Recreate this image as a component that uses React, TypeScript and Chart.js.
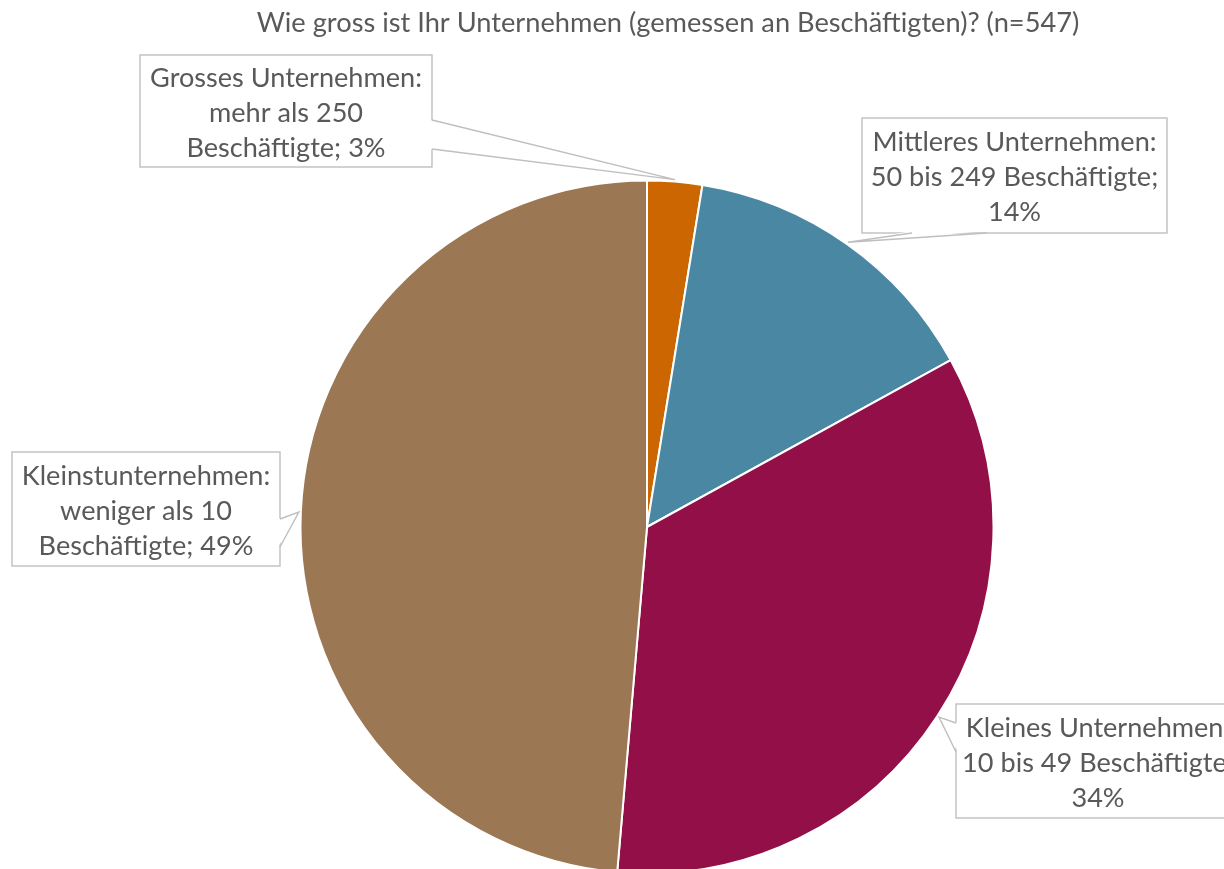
import React, { useEffect, useRef } from "react";
import { Chart, registerables } from "chart.js";

Chart.register(...registerables);

// ---------- data ----------
const chartTitle = "Wie gross ist Ihr Unternehmen (gemessen an Beschäftigten)? (n=547)";
const categories = [
  "Grosses Unternehmen",
  "Mittleres Unternehmen",
  "Kleines Unternehmen",
  "Kleinstunternehmen",
];
const counts = [14, 79, 188, 266];
const labelTemplates = [
  ["Grosses Unternehmen:", "mehr als 250", "Beschäftigte; {p}"],
  ["Mittleres Unternehmen:", "50 bis 249 Beschäftigte;", "{p}"],
  ["Kleines Unternehmen:", "10 bis 49 Beschäftigte;", "{p}"],
  ["Kleinstunternehmen:", "weniger als 10", "Beschäftigte; {p}"],
];
const sliceColors = ["#CC6600", "#4A87A3", "#930F48", "#9B7753"];

// ---------- layout (positions / styles) ----------
const W = 1224;
const H = 869;
const CANVAS_H = 878;
const PIE = { cx: 647, cy: 527, r: 346.5 };
type Side = "right" | "left" | "bottom";
const callouts: { x: number; y: number; w: number; h: number; side: Side; b1: number; b2: number }[] = [
  { x: 140, y: 55, w: 292, h: 112, side: "right", b1: 65, b2: 94 },
  { x: 862, y: 118, w: 305, h: 115, side: "bottom", b1: 50, b2: 125 },
  { x: 956, y: 704, w: 284, h: 114, side: "left", b1: 19, b2: 48 },
  { x: 12, y: 452, w: 268, h: 114, side: "right", b1: 67, b2: 95 },
];
const FONT_FAMILY = "Lato, 'Open Sans', sans-serif";
const TEXT_COLOR = "#595959";
const BOX_STROKE = "#BFBFBF";
const LINE_H = 35;

function fitSize(ctx: CanvasRenderingContext2D, text: string, target: number) {
  ctx.font = `100px ${FONT_FAMILY}`;
  const w = ctx.measureText(text).width;
  return (100 * target) / w;
}

const calloutPlugin = {
  id: "callouts",
  afterDraw(chart: any) {
    const ctx: CanvasRenderingContext2D = chart.ctx;
    const meta = chart.getDatasetMeta(0);
    const total = counts.reduce((a, b) => a + b, 0);
    ctx.save();

    // title
    const titleSize = fitSize(ctx, chartTitle, 823);
    ctx.font = `${titleSize}px ${FONT_FAMILY}`;
    ctx.fillStyle = TEXT_COLOR;
    ctx.textAlign = "center";
    ctx.textBaseline = "middle";
    ctx.fillText(chartTitle, 668, 23);

    const labelSize = fitSize(ctx, "Grosses Unternehmen:", 272);

    meta.data.forEach((arc: any, i: number) => {
      const c = callouts[i];
      if (!c) return;
      const p = arc.getProps(["x", "y", "startAngle", "endAngle", "outerRadius"], true);
      const mid = (p.startAngle + p.endAngle) / 2;
      const tx = p.x + Math.cos(mid) * (p.outerRadius + 2);
      const ty = p.y + Math.sin(mid) * (p.outerRadius + 2);

      let b1x, b1y, b2x, b2y, dx = 0, dy = 0;
      if (c.side === "right") {
        b1x = b2x = c.x + c.w; b1y = c.y + c.b1; b2y = c.y + c.b2; dx = -2;
      } else if (c.side === "left") {
        b1x = b2x = c.x; b1y = c.y + c.b1; b2y = c.y + c.b2; dx = 2;
      } else {
        b1y = b2y = c.y + c.h; b1x = c.x + c.b1; b2x = c.x + c.b2; dy = -2;
      }

      // box
      ctx.fillStyle = "#FFFFFF";
      ctx.fillRect(c.x, c.y, c.w, c.h);
      ctx.strokeStyle = BOX_STROKE;
      ctx.lineWidth = 1.4;
      ctx.strokeRect(c.x, c.y, c.w, c.h);

      // wedge
      ctx.beginPath();
      ctx.moveTo(b1x + dx, b1y + dy);
      ctx.lineTo(tx, ty);
      ctx.lineTo(b2x + dx, b2y + dy);
      ctx.closePath();
      ctx.fillStyle = "#FFFFFF";
      ctx.fill();
      ctx.beginPath();
      ctx.moveTo(b1x, b1y);
      ctx.lineTo(tx, ty);
      ctx.lineTo(b2x, b2y);
      ctx.stroke();

      // text
      const pct = Math.round((counts[i] / total) * 100) + "%";
      const lines = labelTemplates[i].map((t) => t.replace("{p}", pct));
      ctx.font = `${labelSize}px ${FONT_FAMILY}`;
      ctx.fillStyle = TEXT_COLOR;
      ctx.textAlign = "center";
      ctx.textBaseline = "middle";
      const cx = c.x + c.w / 2;
      const cy = c.y + c.h / 2 + 2;
      lines.forEach((ln, k) => {
        ctx.fillText(ln, cx, cy + (k - (lines.length - 1) / 2) * LINE_H);
      });
    });
    ctx.restore();
  },
};

export default function App() {
  const ref = useRef<HTMLCanvasElement | null>(null);
  useEffect(() => {
    document.body.style.margin = "0";
    document.body.style.overflow = "hidden";
    const canvas = ref.current;
    if (!canvas) return;
    const bw = 2;
    const half = PIE.r + bw / 2;
    const chart = new Chart(canvas, {
      type: "pie",
      data: {
        labels: categories,
        datasets: [
          {
            data: counts,
            backgroundColor: sliceColors,
            borderColor: "#FFFFFF",
            borderWidth: bw,
            hoverOffset: 0,
            offset: 0,
          },
        ],
      },
      options: {
        responsive: false,
        animation: false,
        events: [],
        layout: {
          padding: {
            left: PIE.cx - half,
            right: W - (PIE.cx + half),
            top: PIE.cy - half,
            bottom: CANVAS_H - (PIE.cy + half),
          },
        },
        plugins: {
          legend: { display: false },
          tooltip: { enabled: false },
          title: { display: false },
        },
      },
      plugins: [calloutPlugin],
    });
    return () => chart.destroy();
  }, []);
  return (
    <div style={{ width: W, height: H, overflow: "hidden", background: "#fff" }}>
      <canvas ref={ref} width={W} height={CANVAS_H} style={{ display: "block" }} />
    </div>
  );
}
